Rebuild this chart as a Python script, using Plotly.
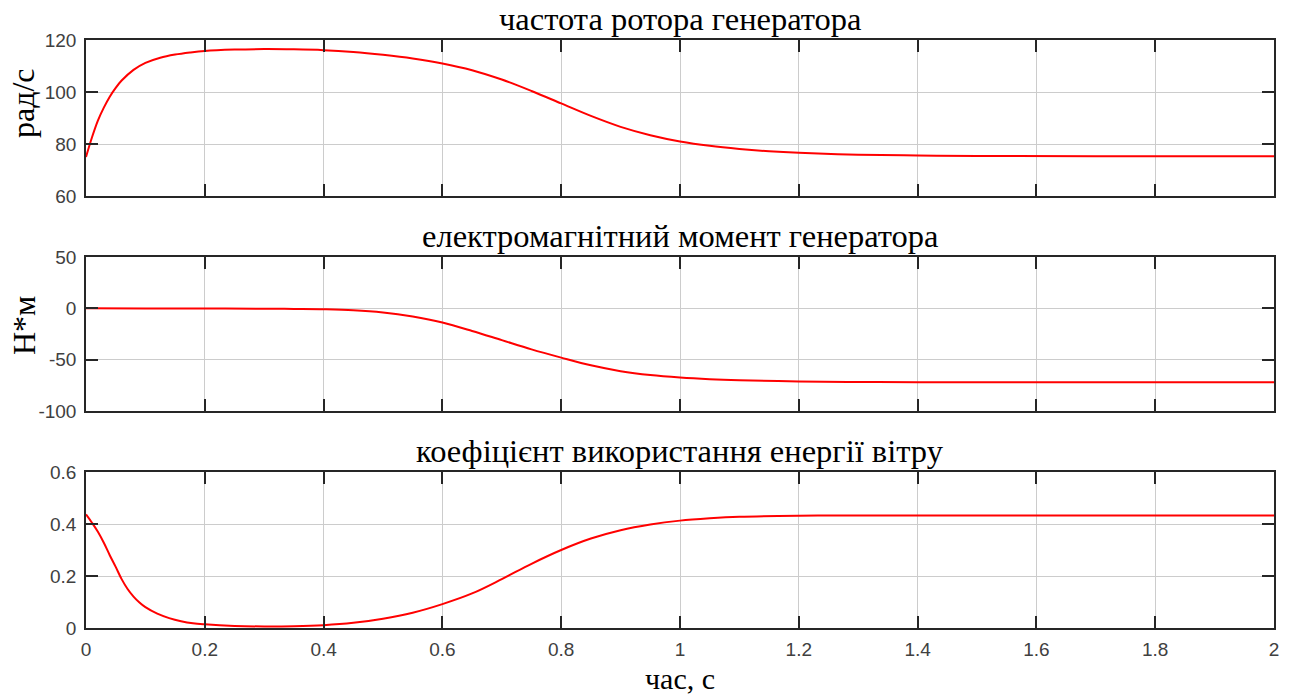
import plotly.graph_objects as go
from plotly.subplots import make_subplots

# ---- data ----
t_speed = [0, 0.01, 0.02, 0.03, 0.04, 0.05, 0.06, 0.08, 0.10, 0.125, 0.15, 0.175, 0.2, 0.25,
           0.3, 0.35, 0.4, 0.45, 0.5, 0.55, 0.6, 0.65, 0.7, 0.75, 0.8, 0.85, 0.9, 0.95, 1.0,
           1.05, 1.1, 1.15, 1.2, 1.3, 1.4, 1.5, 1.7, 2.0]
speed = [75, 82.5, 89, 94, 98.2, 101.6, 104.4, 108.5, 111.2, 113.2, 114.4, 115.2, 115.8, 116.3,
         116.5, 116.4, 116.1, 115.4, 114.3, 112.9, 111.0, 108.4, 104.8, 100.4, 95.6, 90.8, 86.6,
         83.4, 81.0, 79.3, 78.1, 77.2, 76.6, 75.9, 75.6, 75.4, 75.3, 75.3]

t_torque = [0, 0.1, 0.2, 0.3, 0.35, 0.4, 0.45, 0.5, 0.55, 0.6, 0.65, 0.7, 0.75, 0.8, 0.85,
            0.9, 0.95, 1.0, 1.05, 1.1, 1.2, 1.3, 1.4, 1.6, 1.8, 2.0]
torque = [0, -0.05, -0.2, -0.4, -0.6, -0.9, -1.8, -4.0, -8.0, -13.8, -22.0, -31.0, -40.0, -48.0,
          -55.5, -61.2, -65.0, -67.4, -69.0, -70.0, -71.2, -71.7, -72, -72, -72, -72]

t_cp = [0, 0.01, 0.02, 0.03, 0.04, 0.05, 0.06, 0.07, 0.08, 0.09, 0.10, 0.12, 0.14, 0.16, 0.18,
        0.2, 0.25, 0.3, 0.35, 0.4, 0.45, 0.5, 0.55, 0.6, 0.65, 0.7, 0.75, 0.8, 0.85, 0.9, 0.95,
        1.0, 1.05, 1.1, 1.2, 1.3, 1.5, 2.0]
cp = [0.437, 0.405, 0.37, 0.328, 0.28, 0.235, 0.188, 0.150, 0.121, 0.098, 0.080, 0.055, 0.038,
      0.026, 0.018, 0.014, 0.008, 0.006, 0.007, 0.011, 0.020, 0.036, 0.059, 0.092, 0.133, 0.188,
      0.247, 0.300, 0.344, 0.376, 0.398, 0.413, 0.422, 0.428, 0.432, 0.433, 0.433, 0.433]

titles = ["частота ротора генератора", "електромагнітний момент генератора",
          "коефіцієнт використання енергії вітру"]
ylabels = ["рад/с", "Н*м", ""]
xlabel = "час, с"

x_ticks = [0, 0.2, 0.4, 0.6, 0.8, 1, 1.2, 1.4, 1.6, 1.8, 2]
x_ticktext = ["0", "0.2", "0.4", "0.6", "0.8", "1", "1.2", "1.4", "1.6", "1.8", "2"]
y_ranges = [[60, 120], [-100, 50], [0, 0.6]]
y_ticks = [[60, 80, 100, 120], [-100, -50, 0, 50], [0, 0.2, 0.4, 0.6]]
y_ticktext = [["60", "80", "100", "120"], ["-100", "-50", "0", "50"], ["0", "0.2", "0.4", "0.6"]]

# ---- layout ----
W, H = 1290, 696
ML, MR, MT, MB = 86, 16, 40, 68
PH = H - MT - MB
domains_px = [(40, 196), (257, 411), (472, 628)]  # top/bottom pixel of each axes
domains = [[(H - MB - b) / PH, (H - MB - t) / PH] for (t, b) in domains_px]
ylabel_px = [(23, 103), (24, 326)]  # centre of y labels (pixels)

fig = make_subplots(rows=3, cols=1, shared_xaxes=False)

serif = "Liberation Serif, Times New Roman, serif"
sans = "Liberation Sans, Arial, sans-serif"
red = "#ff0000"

series = [(t_speed, speed), (t_torque, torque), (t_cp, cp)]
for i, (tx, ty) in enumerate(series):
    fig.add_trace(go.Scatter(x=tx, y=ty, mode="lines",
                             line=dict(color=red, width=2, shape="spline", smoothing=1.0),
                             showlegend=False, hoverinfo="skip"), row=i + 1, col=1)

axis_common = dict(showline=True, linecolor="#262626", linewidth=1.5, mirror="ticks",
                   ticks="inside", ticklen=12, tickwidth=1.5, tickcolor="#262626",
                   showgrid=True, gridcolor="#cccccc", gridwidth=1, zeroline=False,
                   tickfont=dict(family=sans, size=19, color="#404040"))

for i in range(3):
    xa = "xaxis" if i == 0 else f"xaxis{i+1}"
    ya = "yaxis" if i == 0 else f"yaxis{i+1}"
    fig.update_layout({
        xa: dict(axis_common, range=[0, 2], tickvals=x_ticks, ticktext=x_ticktext,
                 showticklabels=(i == 2), domain=[0, 1], ticklabelstandoff=3),
        ya: dict(axis_common, range=y_ranges[i], tickvals=y_ticks[i], ticktext=y_ticktext[i],
                 domain=domains[i], ticklabelstandoff=4),
    })
    fig.add_annotation(text=titles[i], xref="paper", yref="paper", x=0.5, y=domains[i][1],
                       xanchor="center", yanchor="middle", yshift=21, showarrow=False,
                       font=dict(family=serif, size=32.5, color="#000000"))
    if ylabels[i]:
        px, py = ylabel_px[i]
        fig.add_annotation(text=ylabels[i], xref="paper", yref="paper",
                           x=-(ML - px) / (W - ML - MR), y=(H - MB - py) / PH,
                           xanchor="center", yanchor="middle", textangle=-90, showarrow=False,
                           font=dict(family=serif, size=32, color="#000000"))

fig.add_annotation(text=xlabel, xref="paper", yref="paper", x=0.5, y=0,
                   xanchor="center", yanchor="middle", yshift=-(678 - (H - MB)), showarrow=False,
                   font=dict(family=serif, size=30, color="#000000"))

fig.update_layout(width=W, height=H, margin=dict(l=ML, r=MR, t=MT, b=MB),
                  paper_bgcolor="white", plot_bgcolor="white")

fig.write_html("out.html", config={"displayModeBar": False})
